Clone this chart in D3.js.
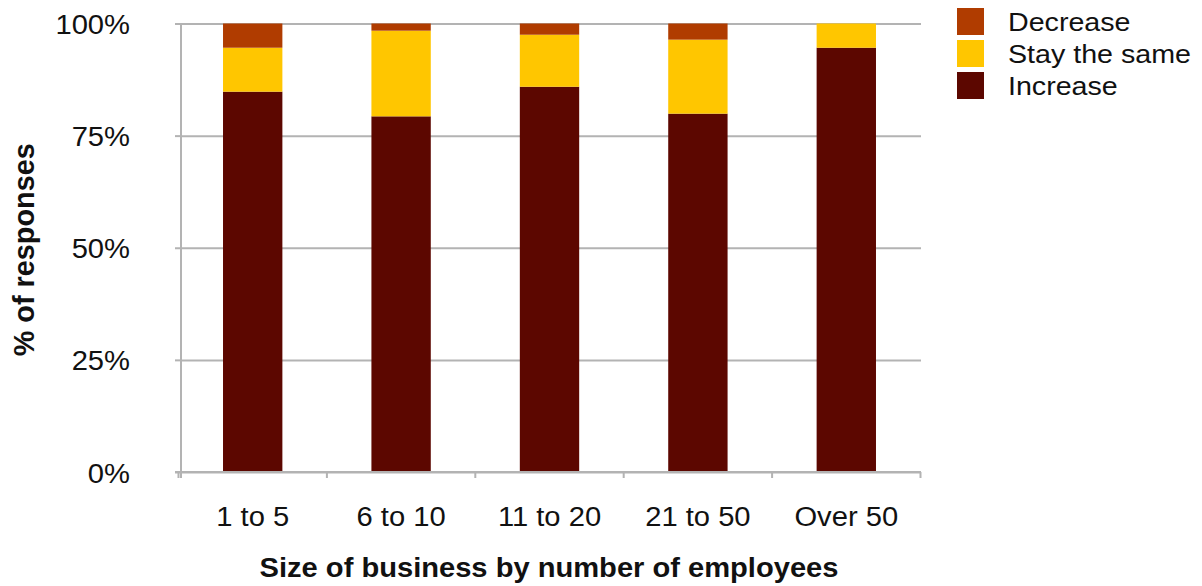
<!DOCTYPE html>
<html>
<head>
<meta charset="utf-8">
<script src="https://cdn.jsdelivr.net/npm/d3@7"></script>
<style>
  html, body { margin: 0; padding: 0; background: #ffffff; }
  svg { display: block; font-family: "Liberation Sans", Arial, Helvetica, sans-serif; }
</style>
</head>
<body>
<svg id="chart" width="1202" height="586"></svg>
<script>
// ---- data ----
const categories = ["1 to 5", "6 to 10", "11 to 20", "21 to 50", "Over 50"];
const increase = [84.8, 79.3, 85.9, 79.9, 94.6];
const staySame = [9.8, 19.1, 11.6, 16.5, 5.4];
const decrease = [5.4, 1.6, 2.5, 3.6, 0.0];
const seriesNames = ["Increase", "Stay the same", "Decrease"];
const legendOrder = ["Decrease", "Stay the same", "Increase"];
const yTickValues = [0, 25, 50, 75, 100];
const yTickLabels = ["0%", "25%", "50%", "75%", "100%"];
const xTitle = "Size of business by number of employees";
const yTitle = "% of responses";

// ---- styles ----
const colors = { "Increase": "#5c0700", "Stay the same": "#ffc600", "Decrease": "#b03c00" };
const gridColor = "#b3b3b3";
const SX = 1.08; // horizontal glyph stretch of the reference text

const rows = categories.map((c, i) => ({
  category: c,
  "Increase": increase[i],
  "Stay the same": staySame[i],
  "Decrease": decrease[i]
}));

const svg = d3.select("#chart");
const plotLeft = 181, plotRight = 921, plotTop = 23.5, plotBottom = 472;

const x = d3.scaleBand().domain(categories).range([178.5, 920.5]).paddingInner(0.6).paddingOuter(0.3);
const y = d3.scaleLinear().domain([0, 100]).range([plotBottom, plotTop]);

// gridlines + y labels
const yAxis = d3.axisLeft(y)
  .tickValues(yTickValues)
  .tickSize(-(plotRight - plotLeft))
  .tickFormat((d, i) => yTickLabels[i]);

const gy = svg.append("g").attr("transform", `translate(${plotLeft},0)`).call(yAxis);
gy.select(".domain").remove();
gy.selectAll(".tick line").attr("stroke", gridColor).attr("stroke-width", 2);
gy.selectAll(".tick").append("line")
  .attr("x1", -6).attr("x2", 0).attr("stroke", gridColor).attr("stroke-width", 2);
gy.selectAll(".tick text")
  .attr("x", 0).attr("dy", null)
  .attr("transform", `translate(-51,10) scale(${SX},1)`)
  .attr("font-size", 27)
  .attr("fill", "#111")
  .attr("font-family", "\"Liberation Sans\", Arial, Helvetica, sans-serif")
  .attr("text-anchor", "end");

// y axis vertical line
svg.append("line")
  .attr("x1", plotLeft).attr("x2", plotLeft)
  .attr("y1", plotTop).attr("y2", plotBottom + 6)
  .attr("stroke", gridColor).attr("stroke-width", 2);

// stacked bars
const stack = d3.stack().keys(seriesNames);
const stacked = stack(rows);

svg.append("g").selectAll("g")
  .data(stacked)
  .join("g")
  .attr("fill", d => colors[d.key])
  .selectAll("rect")
  .data(d => d)
  .join("rect")
  .attr("x", d => x(d.data.category))
  .attr("width", x.bandwidth())
  .attr("y", d => y(d[1]))
  .attr("height", d => Math.max(0, y(d[0]) - y(d[1])));

// x axis line and ticks at category boundaries
const xAxisG = svg.append("g");
xAxisG.append("line")
  .attr("x1", plotLeft - 6).attr("x2", plotRight)
  .attr("y1", plotBottom).attr("y2", plotBottom)
  .attr("stroke", gridColor).attr("stroke-width", 2);
const tickXs = categories.map(c => x(c) + x.bandwidth() / 2 - x.step() / 2);
tickXs.push(x(categories[categories.length - 1]) + x.bandwidth() / 2 + x.step() / 2);
xAxisG.selectAll("line.t")
  .data(tickXs)
  .join("line")
  .attr("class", "t")
  .attr("x1", d => d).attr("x2", d => d)
  .attr("y1", plotBottom).attr("y2", plotBottom + 6)
  .attr("stroke", gridColor).attr("stroke-width", 2);

// category labels
svg.append("g").selectAll("text")
  .data(categories)
  .join("text")
  .attr("transform", d => `translate(${x(d) + x.bandwidth() / 2},526) scale(${SX},1)`)
  .attr("text-anchor", "middle")
  .attr("font-size", 27)
  .attr("fill", "#111")
  .text(d => d);

// x title
svg.append("text")
  .attr("transform", `translate(${(plotLeft + plotRight) / 2 - 2},577) scale(1.04,1)`)
  .attr("text-anchor", "middle")
  .attr("font-size", 28)
  .attr("font-weight", "bold")
  .attr("fill", "#111")
  .text(xTitle);

// y title
svg.append("text")
  .attr("transform", `translate(34,${(plotTop + plotBottom) / 2 + 2}) rotate(-90) scale(1.03,1.05)`)
  .attr("text-anchor", "middle")
  .attr("font-size", 28)
  .attr("font-weight", "bold")
  .attr("fill", "#111")
  .text(yTitle);

// legend
const lg = svg.append("g");
const li = lg.selectAll("g")
  .data(legendOrder)
  .join("g")
  .attr("transform", (d, i) => `translate(957,${8 + i * 32})`);
li.append("rect")
  .attr("width", 27).attr("height", 27)
  .attr("fill", d => colors[d]);
li.append("text")
  .attr("transform", `translate(51,23) scale(${SX},1)`)
  .attr("font-size", 26.5)
  .attr("fill", "#111")
  .text(d => d);
</script>
</body>
</html>
